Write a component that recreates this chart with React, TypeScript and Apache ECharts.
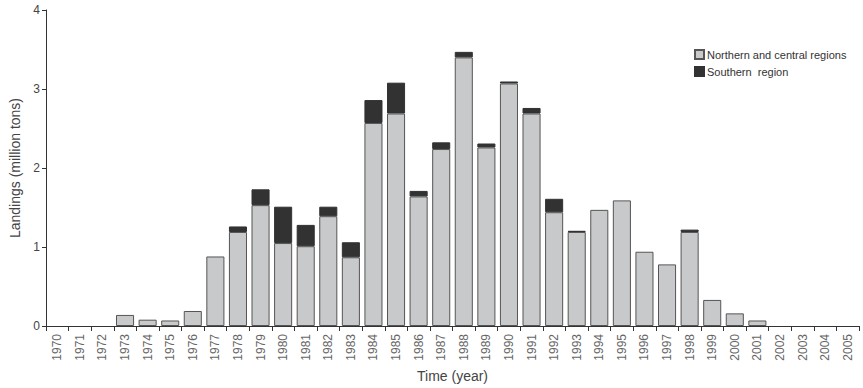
import React, { useEffect, useRef } from "react";
import * as echarts from "echarts";

const years = [
  "1970", "1971", "1972", "1973", "1974", "1975", "1976", "1977", "1978", "1979",
  "1980", "1981", "1982", "1983", "1984", "1985", "1986", "1987", "1988", "1989",
  "1990", "1991", "1992", "1993", "1994", "1995", "1996", "1997", "1998", "1999",
  "2000", "2001", "2002", "2003", "2004", "2005",
];

const northernCentral = [
  0, 0, 0, 0.14, 0.08, 0.07, 0.19, 0.88, 1.19, 1.53,
  1.05, 1.01, 1.39, 0.87, 2.57, 2.69, 1.64, 2.24, 3.4, 2.26,
  3.07, 2.69, 1.44, 1.19, 1.47, 1.59, 0.94, 0.78, 1.19, 0.33,
  0.16, 0.07, 0, 0, 0, 0,
];

const southern = [
  0, 0, 0, 0, 0, 0, 0, 0, 0.07, 0.2,
  0.46, 0.27, 0.12, 0.19, 0.29, 0.39, 0.07, 0.085, 0.07, 0.05,
  0.025, 0.07, 0.17, 0.015, 0, 0, 0, 0, 0.03, 0,
  0, 0, 0, 0, 0, 0,
];

const yTicks = [0, 1, 2, 3, 4];

export default function App() {
  const ref = useRef<HTMLDivElement>(null);

  useEffect(() => {
    if (!ref.current) return;
    const chart = echarts.init(ref.current, null, { renderer: "svg" });
    const font = "'Liberation Sans', Arial, sans-serif";
    chart.setOption({
      animation: false,
      textStyle: { fontFamily: font },
      legend: {
        orient: "vertical",
        left: 689,
        top: 44,
        itemWidth: 9,
        itemHeight: 9,
        itemGap: 6,
        icon: "rect",
        textStyle: { fontSize: 11, color: "#333", fontFamily: font, padding: [0, 0, 0, -2] },
        data: ["Northern and central regions", "Southern  region"],
      },
      grid: { left: 43, right: 4, top: 10, bottom: 62, containLabel: false },
      xAxis: {
        type: "category",
        data: years,
        name: "Time (year)",
        nameLocation: "middle",
        nameGap: 43,
        nameTextStyle: { fontSize: 14, color: "#444", fontFamily: font },
        axisLine: { lineStyle: { color: "#333", width: 1 } },
        axisTick: { show: true, alignWithLabel: false, interval: 0, length: 5, lineStyle: { color: "#333" } },
        axisLabel: { interval: 0, rotate: 90, fontSize: 12, color: "#666", margin: 8, fontFamily: font },
      },
      yAxis: {
        type: "value",
        min: yTicks[0],
        max: yTicks[yTicks.length - 1],
        interval: 1,
        name: "Landings (million tons)",
        nameLocation: "middle",
        nameGap: 24,
        nameTextStyle: { fontSize: 14, color: "#444", fontFamily: font },
        axisLine: { show: true, lineStyle: { color: "#333", width: 1 } },
        axisTick: { show: true, length: 4, lineStyle: { color: "#333" } },
        axisLabel: { fontSize: 12, color: "#444", margin: 6, fontFamily: font },
        splitLine: { show: false },
      },
      series: [
        {
          name: "Northern and central regions",
          type: "bar",
          stack: "total",
          barCategoryGap: "20%",
          data: northernCentral.map((v) => (v === 0 ? null : v)),
          itemStyle: { color: "#c8c9cb", borderColor: "#555", borderWidth: 1 },
        },
        {
          name: "Southern  region",
          type: "bar",
          stack: "total",
          barCategoryGap: "20%",
          data: southern.map((v) => (v === 0 ? null : v)),
          itemStyle: { color: "#333233", borderColor: "#333233", borderWidth: 1 },
        },
      ],
    });
    return () => chart.dispose();
  }, []);

  return (
    <div
      ref={ref}
      style={{ position: "absolute", left: 0, top: 0, width: 863, height: 388 }}
    />
  );
}
